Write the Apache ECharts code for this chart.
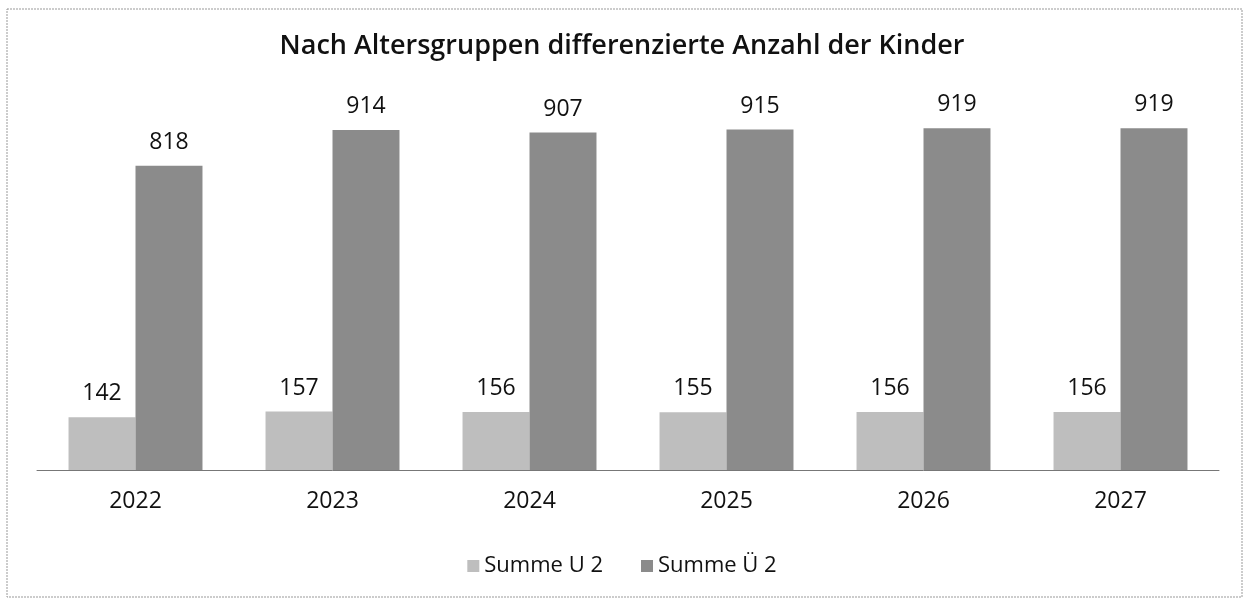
<!DOCTYPE html>
<html><head><meta charset="utf-8">
<script src="https://cdn.jsdelivr.net/npm/echarts@6/dist/echarts.min.js"></script>
<style>html,body{margin:0;padding:0;background:#fff}#c{width:1244px;height:599px}</style>
</head><body><div id="c"></div>
<script>
const categories = ['2022','2023','2024','2025','2026','2027'];
const seriesNames = ['Summe U 2','Summe Ü 2'];
const u2 = [142,157,156,155,156,156];
const ue2 = [818,914,907,915,919,919];
const FONT = '"Open Sans", sans-serif';
const chart = echarts.init(document.getElementById('c'));
chart.setOption({
  animation:false,
  backgroundColor:'#fff',
  title:{text:'Nach Altersgruppen differenzierte Anzahl der Kinder',left:'center',top:28,
    textStyle:{fontFamily:FONT,fontSize:27,fontWeight:600,color:'#111'}},
  legend:{bottom:17,left:'center',itemWidth:12,itemHeight:12,itemGap:38,icon:'rect',
    textStyle:{fontFamily:FONT,fontSize:22,color:'#111'},data:seriesNames},
  graphic:[{type:'rect',shape:{x:7,y:9,width:1235,height:588},
    style:{fill:'none',stroke:'#999',lineWidth:1,lineDash:[2,1]}}],
  grid:{left:37,right:25,top:98,bottom:129},
  xAxis:{type:'category',data:categories,
    axisLine:{lineStyle:{color:'#777',width:1}},axisTick:{show:false},
    axisLabel:{fontFamily:FONT,fontSize:23,color:'#111',margin:20}},
  yAxis:{type:'value',min:0,max:1000,show:false,splitLine:{show:false}},
  series:[
    {name:seriesNames[0],type:'bar',data:u2,barGap:'0%',barCategoryGap:'32%',
     itemStyle:{color:'#bebebe'},
     label:{show:true,position:'top',distance:12,fontFamily:FONT,fontSize:23,color:'#111'}},
    {name:seriesNames[1],type:'bar',data:ue2,
     itemStyle:{color:'#8b8b8b'},
     label:{show:true,position:'top',distance:12,fontFamily:FONT,fontSize:23,color:'#111'}}
  ]
});
</script></body></html>
